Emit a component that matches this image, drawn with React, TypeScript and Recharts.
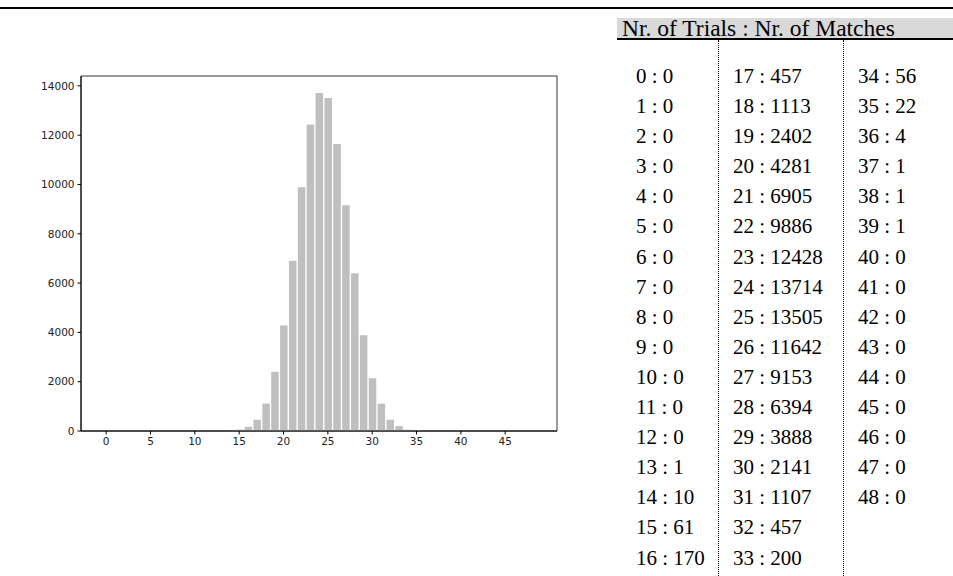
import { BarChart, Bar, XAxis, YAxis, ReferenceArea } from "recharts"

const trials = [
  0, 1, 2, 3, 4, 5, 6, 7, 8, 9, 10, 11, 12, 13, 14, 15, 16,
  17, 18, 19, 20, 21, 22, 23, 24, 25, 26, 27, 28, 29, 30, 31, 32, 33,
  34, 35, 36, 37, 38, 39, 40, 41, 42, 43, 44, 45, 46, 47, 48
]

const matches = [
  0, 0, 0, 0, 0, 0, 0, 0, 0, 0, 0, 0, 0, 1, 10, 61, 170,
  457, 1113, 2402, 4281, 6905, 9886, 12428, 13714, 13505, 11642, 9153, 6394, 3888, 2141, 1107, 457, 200,
  56, 22, 4, 1, 1, 1, 0, 0, 0, 0, 0, 0, 0, 0, 0
]

const xTicks = [0, 5, 10, 15, 20, 25, 30, 35, 40, 45]
const yTicks = [0, 2000, 4000, 6000, 8000, 10000, 12000, 14000]

// where the table wraps to the next column
const columnStarts = [0, 17, 34, 49]
const headerText = "Nr. of Trials : Nr. of Matches"

const data = trials.map((n, i) => ({ n, m: matches[i] }))

const X_MIN = -2.84
const X_MAX = 50.84
const Y_MAX = 14400

const tickFont = { fontSize: 10.5, fill: "#222", fontFamily: "DejaVu Sans" }

export default function App() {
  const columns = columnStarts.slice(0, -1).map((s, i) =>
    data.slice(s, columnStarts[i + 1])
  )
  const colLeft = [636, 733, 858]

  return (
    <div style={{ position: "absolute", left: 0, top: 0, width: 953, height: 576, background: "#fff", overflow: "hidden" }}>
      <div style={{ position: "absolute", left: 0, top: 7, width: 953, height: 2, background: "#000" }} />

      <div style={{ position: "absolute", left: 0, top: 0 }}>
        <BarChart width={600} height={470} data={data} margin={{ top: 76, right: 43, bottom: 9, left: 31 }}>
          <XAxis
            dataKey="n"
            type="number"
            domain={[X_MIN, X_MAX]}
            ticks={xTicks}
            allowDataOverflow
            height={30}
            tick={tickFont}
            tickSize={3.5}
            tickMargin={3}
            stroke="#000"
            interval={0}
          />
          <YAxis
            type="number"
            domain={[0, Y_MAX]}
            ticks={yTicks}
            allowDataOverflow
            width={50}
            tick={tickFont}
            tickSize={3.5}
            tickMargin={3}
            stroke="#000"
            interval={0}
          />
          <ReferenceArea x1={X_MIN} x2={X_MAX} y1={0} y2={Y_MAX} fill="none" stroke="#000" strokeWidth={0.8} ifOverflow="visible" />
          <Bar dataKey="m" fill="#bfbfbf" barSize={7.5} isAnimationActive={false} />
        </BarChart>
      </div>

      <div style={{ position: "absolute", left: 617, top: 18, width: 336, height: 20, background: "#d9d9d9" }}>
        <span style={{ position: "absolute", left: 5, top: -1, fontFamily: "Liberation Serif", fontSize: 23.5, lineHeight: "22px", whiteSpace: "nowrap" }}>
          {headerText}
        </span>
      </div>
      <div style={{ position: "absolute", left: 617, top: 38, width: 336, height: 2, background: "#000" }} />

      <div style={{ position: "absolute", left: 718, top: 40, height: 536, borderLeft: "1px dotted #000" }} />
      <div style={{ position: "absolute", left: 843, top: 40, height: 536, borderLeft: "1px dotted #000" }} />

      {columns.map((col, ci) => (
        <div key={ci} style={{ position: "absolute", left: colLeft[ci], top: 61 }}>
          {col.map((d) => (
            <div key={d.n} style={{ fontFamily: "Liberation Serif", fontSize: 21, height: 30.1, lineHeight: "30.1px", whiteSpace: "nowrap" }}>
              {d.n} : {d.m}
            </div>
          ))}
        </div>
      ))}
    </div>
  )
}
